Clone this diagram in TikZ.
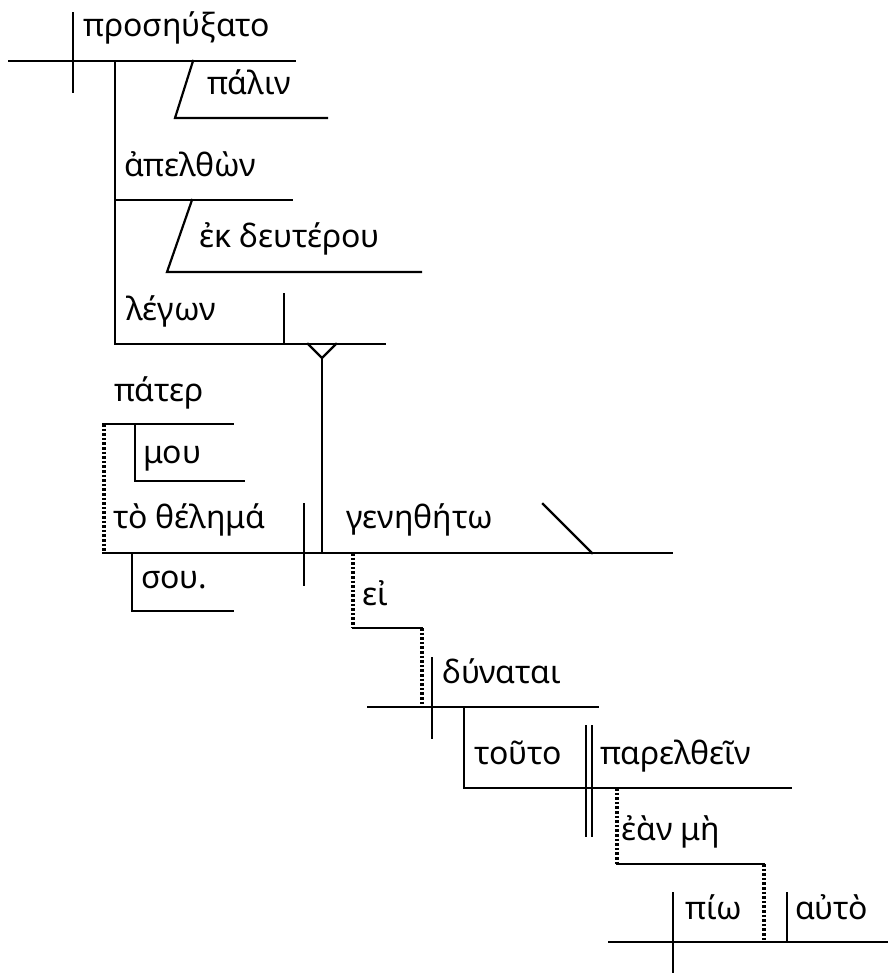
\documentclass[tikz,border=0pt]{standalone}
\usepackage{fontspec}
\setmainfont{Noto Sans}
\begin{document}
\begin{tikzpicture}[x=1pt,y=-1pt,
  ln/.style={line width=2.2pt, line cap=rect},
  dt/.style={line width=3.2pt, dash pattern=on 2.6pt off 2pt},
  wd/.style={anchor=base west, inner sep=0pt, font=\fontsize{32}{38}\selectfont}]
\useasboundingbox (0,0) rectangle (887,973);
% words
\node[wd] (w1) at (83,37) {προσηύξατο};
\node[wd] (w2) at (207,95) {πάλιν};
\node[wd] (w3) at (124,177) {ἀπελθὼν};
\node[wd] (w4) at (199,248) {ἐκ δευτέρου};
\node[wd] (w5) at (126,320) {λέγων};
\node[wd] (w6) at (114,401) {πάτερ};
\node[wd] (w7) at (143,463) {μου};
\node[wd] (w8) at (113,528) {τὸ θέλημά};
\node[wd] (w9) at (346,528) {γενηθήτω};
\node[wd] (w10) at (141,588) {σου.};
\node[wd] (w11) at (362,605) {εἰ};
\node[wd] (w12) at (442,683) {δύναται};
\node[wd] (w13) at (474,764) {τοῦτο};
\node[wd] (w14) at (600,764) {παρελθεῖν};
\node[wd] (w15) at (621,840) {ἐὰν μὴ};
\node[wd] (w16) at (685,919) {πίω};
\node[wd] (w17) at (795,919) {αὐτὸ};
% top clause
\draw[ln] (9,61) -- (295,61);
\draw[ln] (73,13) -- (73,92);
\draw[ln] (115,61) -- (115,344);
\draw[ln] (193,61) -- (175,118) -- (327,118);
\draw[ln] (115,200) -- (292,200);
\draw[ln] (192,200) -- (167,272) -- (421,272);
\draw[ln] (115,344) -- (385,344);
\draw[ln] (284,294) -- (284,344);
\draw[ln] (308,344) -- (322,358) -- (336,344);
\draw[ln] (322,358) -- (322,553);
% main clause
\draw[ln] (103,424) -- (233,424);
\draw[dt] (104,424) -- (104,553);
\draw[ln] (135,424) -- (135,481) -- (244,481);
\draw[ln] (103,553) -- (672,553);
\draw[ln] (304,504) -- (304,585);
\draw[ln] (543,504) -- (592,553);
\draw[ln] (132,553) -- (132,611) -- (233,611);
% conditional clause
\draw[dt] (353,553) -- (353,628);
\draw[ln] (353,628) -- (422,628);
\draw[dt] (422,628) -- (422,707);
\draw[ln] (368,707) -- (598,707);
\draw[ln] (432,658) -- (432,738);
\draw[ln] (464,707) -- (464,788) -- (791,788);
\draw[ln] (586,726) -- (586,836);
\draw[ln] (592,726) -- (592,836);
\draw[dt] (617,788) -- (617,864);
\draw[ln] (617,864) -- (764,864);
\draw[dt] (764,864) -- (764,942);
\draw[ln] (609,942) -- (887,942);
\draw[ln] (673,893) -- (673,973);
\draw[ln] (787,893) -- (787,942);
\end{tikzpicture}
\end{document}
